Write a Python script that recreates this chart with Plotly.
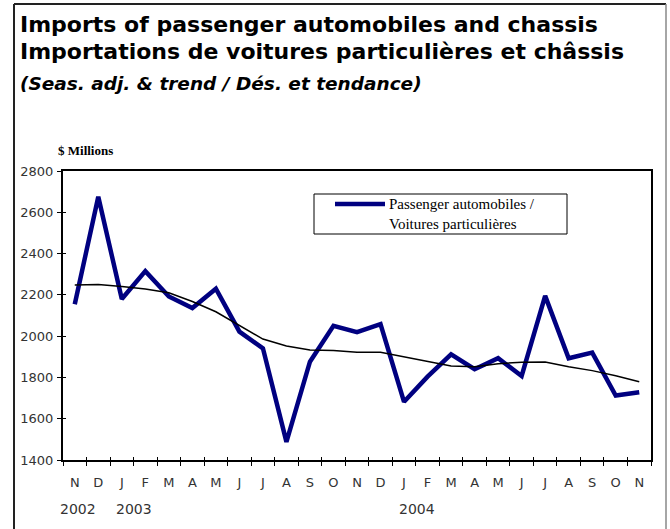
import plotly.graph_objects as go

# ---------------- data ----------------
periods = ["2002-11", "2002-12", "2003-01", "2003-02", "2003-03", "2003-04", "2003-05",
           "2003-06", "2003-07", "2003-08", "2003-09", "2003-10", "2003-11", "2003-12",
           "2004-01", "2004-02", "2004-03", "2004-04", "2004-05", "2004-06", "2004-07",
           "2004-08", "2004-09", "2004-10", "2004-11"]
month_labels = ["N", "D", "J", "F", "M", "A", "M", "J", "J", "A", "S", "O", "N",
                "D", "J", "F", "M", "A", "M", "J", "J", "A", "S", "O", "N"]
passenger = [2155, 2675, 2180, 2315, 2192, 2136, 2230, 2022, 1941, 1488, 1876, 2050, 2019,
             2058, 1682, 1804, 1912, 1840, 1893, 1807, 2195, 1893, 1920, 1712, 1728]
trend = [2248, 2250, 2240, 2228, 2210, 2168, 2118, 2052, 1986, 1952, 1933, 1930, 1922,
         1922, 1900, 1876, 1855, 1852, 1866, 1874, 1875, 1852, 1833, 1808, 1779]
year_labels = ["2002", "2003", "2004"]
year_positions = [0.14, 2.52, 14.56]   # category-index positions of the year labels

series_name = "Passenger automobiles /<br>Voitures particulières"
title1 = "Imports of passenger automobiles and chassis"
title2 = "Importations de voitures particulières et châssis"
title3 = "(Seas. adj. & trend / Dés. et tendance)"
y_unit = "$ Millions"

# ---------------- geometry helpers (layout only) ----------------
W, H = 670, 529
PL, PR, PT, PB = 63, 651, 171, 460


def px_x(x):
    return (x - PL) / (PR - PL)


def px_y(y):
    return (PB - y) / (PB - PT)


NAVY = "#000080"
TICKFONT = dict(family="DejaVu Sans", size=13, color="#333333")

fig = go.Figure()
fig.add_trace(go.Scatter(x=periods, y=passenger, mode="lines", name="passenger",
                         line=dict(color=NAVY, width=4.5), showlegend=False,
                         hoverinfo="skip"))
fig.add_trace(go.Scatter(x=periods, y=trend, mode="lines", name="trend",
                         line=dict(color="black", width=1.5), showlegend=False,
                         xaxis="x2", yaxis="y2", hoverinfo="skip"))

fig.update_layout(
    width=W, height=H, autosize=False,
    margin=dict(l=PL, r=W - PR, t=PT, b=H - PB, pad=0),
    paper_bgcolor="white", plot_bgcolor="white",
    showlegend=False,
    xaxis=dict(type="category", categoryorder="array", categoryarray=periods,
               tickmode="array", tickvals=periods, ticktext=month_labels,
               tickson="boundaries", ticks="outside", ticklen=4, tickwidth=1,
               tickcolor="black", showline=True, linecolor="black", linewidth=2,
               mirror=True, showgrid=False, zeroline=False, tickfont=TICKFONT,
               range=[-0.5, len(periods) - 0.5], ticklabelstandoff=9),
    xaxis2=dict(type="category", categoryorder="array", categoryarray=periods,
                overlaying="x", matches="x", tickmode="array", tickvals=periods,
                tickson="boundaries", ticks="inside", ticklen=3, tickwidth=1,
                tickcolor="black", showticklabels=False, showline=False,
                showgrid=False, zeroline=False, side="bottom"),
    yaxis=dict(range=[1400, 2800], tickmode="array",
               tickvals=[1400, 1600, 1800, 2000, 2200, 2400, 2600, 2800],
               ticks="outside", ticklen=4, tickwidth=1, tickcolor="black",
               showline=True, linecolor="black", linewidth=2, mirror=True,
               showgrid=False, zeroline=False, tickfont=TICKFONT,
               ticklabelstandoff=1),
    yaxis2=dict(range=[1400, 2800], overlaying="y", matches="y", tickmode="array",
                tickvals=[1400, 1600, 1800, 2000, 2200, 2400, 2600, 2800],
                ticks="inside", ticklen=3, tickwidth=1, tickcolor="black",
                showticklabels=False, showline=False, showgrid=False,
                zeroline=False, side="left"),
)

annotations = [
    dict(text="<b>" + title1 + "</b>", x=px_x(18), y=px_y(24), xanchor="left",
         yanchor="middle", font=dict(family="DejaVu Sans", size=22, color="black")),
    dict(text="<b>" + title2 + "</b>", x=px_x(18), y=px_y(51), xanchor="left",
         yanchor="middle", font=dict(family="DejaVu Sans", size=22, color="black")),
    dict(text="<b><i>" + title3 + "</i></b>", x=px_x(18), y=px_y(83), xanchor="left",
         yanchor="middle", font=dict(family="DejaVu Sans", size=18.5, color="black")),
    dict(text="<b>" + y_unit + "</b>", x=px_x(56), y=px_y(150), xanchor="left",
         yanchor="middle", font=dict(family="Liberation Serif", size=13, color="black")),
    dict(text=series_name, x=px_x(387), y=px_y(214), xanchor="left", yanchor="middle",
         align="left", font=dict(family="Liberation Serif", size=15, color="black")),
]
for lab, pos in zip(year_labels, year_positions):
    annotations.append(dict(text=lab, x=pos, y=px_y(509), xref="x", yref="paper",
                            xanchor="center", yanchor="middle",
                            font=dict(family="DejaVu Sans", size=14, color="#333333")))
for a in annotations:
    a.setdefault("xref", "paper")
    a.setdefault("yref", "paper")
    a["showarrow"] = False
fig.update_layout(annotations=annotations)

shapes = [
    # outer frame
    dict(type="line", x0=px_x(14), x1=px_x(14), y0=px_y(4), y1=px_y(540),
         line=dict(color="#222222", width=2)),
    dict(type="line", x0=px_x(14), x1=px_x(666), y0=px_y(4), y1=px_y(4),
         line=dict(color="#222222", width=2)),
    dict(type="line", x0=px_x(666), x1=px_x(666), y0=px_y(4), y1=px_y(540),
         line=dict(color="#888888", width=1.5)),
    # legend box and key
    dict(type="rect", x0=px_x(314), x1=px_x(567), y0=px_y(194), y1=px_y(234),
         line=dict(color="black", width=1), fillcolor="white", layer="below"),
    dict(type="line", x0=px_x(335), x1=px_x(385), y0=px_y(204), y1=px_y(204),
         line=dict(color=NAVY, width=4.5)),
]
for s in shapes:
    s["xref"] = "paper"
    s["yref"] = "paper"
fig.update_layout(shapes=shapes)

fig.write_html("out.html", config={"displayModeBar": False},
               post_script="document.body.style.margin='0';document.body.style.padding='0';")
